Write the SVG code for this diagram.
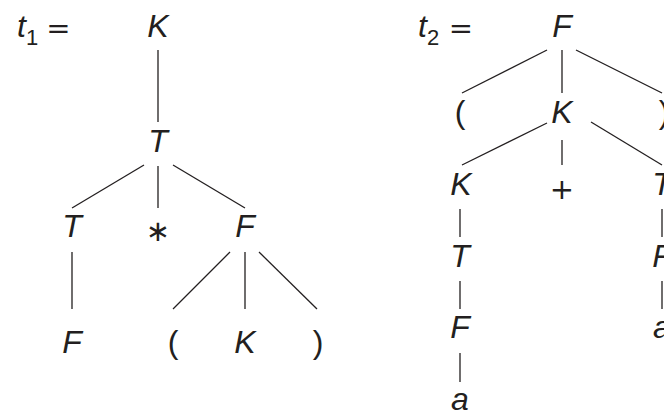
<svg xmlns="http://www.w3.org/2000/svg" width="664" height="411" viewBox="0 0 664 411">
<style>
.bg{fill:#ffffff}
.e line{stroke:#231f20;stroke-width:1.3;stroke-linecap:butt}
.v{font-family:"Liberation Sans",Arial,sans-serif;font-style:italic;font-size:32px;fill:#231f20;text-anchor:middle}
.p{font-family:"Liberation Sans",Arial,sans-serif;font-size:32px;fill:#231f20;text-anchor:middle}
.o{font-family:"DejaVu Sans",sans-serif;font-size:29px;fill:#231f20;text-anchor:middle}
.lbl{font-family:"Liberation Sans",Arial,sans-serif;font-style:italic;font-size:32px;fill:#231f20}
.sub{font-family:"Liberation Sans",Arial,sans-serif;font-size:22px;fill:#231f20}
</style>
<rect class="bg" x="0" y="0" width="664" height="411"/>
<g id="label-t1">
<text class="lbl" x="17" y="37">t</text><text class="sub" x="26" y="45">1</text>
<text class="o" x="58.5" y="38">=</text>
</g>
<g id="label-t2">
<text class="lbl" x="418" y="37">t</text><text class="sub" x="427" y="45">2</text>
<text class="o" x="461" y="38">=</text>
</g>
<g id="connectors" class="e">
<line x1="158" y1="50" x2="158" y2="122"/>
<line x1="144" y1="165" x2="72" y2="208"/>
<line x1="158" y1="166" x2="158" y2="208"/>
<line x1="173" y1="165" x2="245" y2="208"/>
<line x1="72" y1="252" x2="72" y2="309"/>
<line x1="230" y1="252" x2="173" y2="309"/>
<line x1="245" y1="252" x2="245" y2="309"/>
<line x1="259" y1="252" x2="317" y2="309"/>
<line x1="547" y1="50" x2="462" y2="93"/>
<line x1="562" y1="50" x2="562" y2="93"/>
<line x1="576" y1="50" x2="662" y2="93"/>
<line x1="547" y1="123" x2="462" y2="165"/>
<line x1="562" y1="140" x2="562" y2="165"/>
<line x1="591" y1="122" x2="662" y2="165"/>
<line x1="460" y1="209" x2="460" y2="237"/>
<line x1="460" y1="281" x2="460" y2="309"/>
<line x1="460" y1="353" x2="460" y2="382"/>
<line x1="662" y1="209" x2="662" y2="237"/>
<line x1="662" y1="281" x2="662" y2="309"/>
</g>
<g id="t1-K"><text class="v" x="158" y="37">K</text></g>
<g id="t1-T"><text class="v" x="158" y="152">T</text></g>
<g id="t1-T2"><text class="v" x="72" y="237">T</text></g>
<g id="t1-star"><text class="o" x="158" y="241">∗</text></g>
<g id="t1-F"><text class="v" x="245" y="237">F</text></g>
<g id="t1-F2"><text class="v" x="72" y="353">F</text></g>
<g id="t1-lp"><text class="p" x="173" y="353">(</text></g>
<g id="t1-K2"><text class="v" x="245" y="353">K</text></g>
<g id="t1-rp"><text class="p" x="318" y="353">)</text></g>
<g id="t2-F"><text class="v" x="562" y="37">F</text></g>
<g id="t2-lp"><text class="p" x="460" y="123">(</text></g>
<g id="t2-K"><text class="v" x="562" y="123">K</text></g>
<g id="t2-rp"><text class="p" x="664" y="123">)</text></g>
<g id="t2-K2"><text class="v" x="461" y="195">K</text></g>
<g id="t2-plus"><text class="o" x="562" y="199">+</text></g>
<g id="t2-T"><text class="v" x="662" y="195">T</text></g>
<g id="t2-T2"><text class="v" x="460" y="267">T</text></g>
<g id="t2-F2"><text class="v" x="460" y="338">F</text></g>
<g id="t2-a"><text class="v" x="460" y="410">a</text></g>
<g id="t2-F3"><text class="v" x="662" y="267">F</text></g>
<g id="t2-a2"><text class="v" x="662" y="338">a</text></g>
</svg>
